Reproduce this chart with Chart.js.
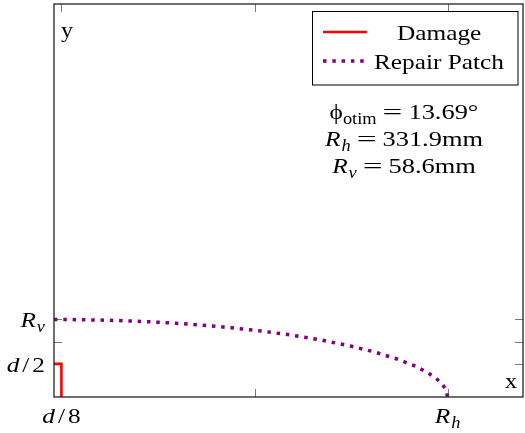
<!DOCTYPE html>
<html>
<head>
<meta charset="utf-8">
<script src="https://cdn.jsdelivr.net/npm/chart.js@4"></script>
<style>
  body { margin: 0; background: #fff; }
  #wrap { width: 525px; height: 433px; }
  #probe { position: absolute; left: -999px; top: 0; font-family: "Liberation Serif"; }
</style>
</head>
<body>
<div id="wrap"><canvas id="c" width="525" height="433"></canvas></div>
<div id="probe">Aa <i>Aa</i></div>
<script>
// data (mm)
const damageX = [0, 6.25, 6.25];
const damageY = [25, 25, 0];
const patchX = [0, 25, 50, 75, 100, 125, 150, 175, 200, 225, 250, 270, 290, 305, 315, 322, 327, 330, 331.9];
const patchY = [58.6, 58.4, 57.9, 57.1, 55.9, 54.3, 52.3, 49.8, 46.8, 43.1, 38.5, 34.1, 28.5, 23.1, 18.5, 14.2, 10.0, 6.3, 0];
const xTicks = [6.25, 169.1, 331.9];
const xTickLabels = ['d/8', '', 'R_h'];
const yTicks = [25, 41.8, 58.6];
const yTickLabels = ['d/2', '', 'R_v'];
const seriesNames = ['Damage', 'Repair Patch'];
const notes = [['ϕ', 'otim', '13.69°'], ['R', 'h', '331.9mm'], ['R', 'v', '58.6mm']];

const SERIF = '"Liberation Serif", "Times New Roman", Times, serif';
const FS = 21;
const SX = 1.15; // figure text looks stretched sideways

function pts(xs, ys) {
  return xs.map((x, i) => ({ x: x, y: ys[i] }));
}

// turn "R_h" / "d/8" into pieces with italic letters and subscripts
function mathPieces(s) {
  const out = [];
  const parts = s.split('_');
  for (const ch of parts[0]) {
    const isLetter = /[a-zA-Z]/.test(ch);
    const prevSlash = out.length && out[out.length - 1].t === '/';
    out.push({ t: ch, it: isLetter, gap: ch === '/' || prevSlash ? 3 : 0 });
  }
  if (parts[1]) out.push({ t: parts[1], it: true, sub: true, gap: 1 });
  return out;
}

function fontFor(p, size) {
  const s = p.sub ? Math.round(size * 0.74) : size;
  return (p.it ? 'italic ' : '') + s + 'px ' + SERIF;
}

function drawRich(ctx, pieces, x, y, align, size) {
  size = size || FS;
  let total = 0;
  const ws = pieces.map(p => {
    ctx.font = fontFor(p, size);
    const w = ctx.measureText(p.t).width * (p.sx || SX);
    total += (p.gap || 0) + w;
    return w;
  });
  let cx = align === 'center' ? x - total / 2 : align === 'right' ? x - total : x;
  ctx.fillStyle = '#000';
  ctx.textBaseline = 'alphabetic';
  ctx.textAlign = 'left';
  pieces.forEach((p, i) => {
    cx += p.gap || 0;
    ctx.font = fontFor(p, size);
    ctx.save();
    ctx.translate(cx, y + (p.sub ? size * 0.22 : 0));
    ctx.scale(p.sx || SX, 1);
    ctx.fillText(p.t, 0, 0);
    ctx.restore();
    cx += ws[i];
  });
}

const decor = {
  id: 'decor',
  beforeDatasetsDraw(chart) {
    const ctx = chart.ctx;
    const a = chart.chartArea;
    const xs = chart.scales.x, ys = chart.scales.y;
    ctx.save();
    ctx.strokeStyle = '#777';
    ctx.lineWidth = 1;
    const L = 8;
    xTicks.forEach(v => {
      const px = Math.round(xs.getPixelForValue(v)) + 0.5;
      ctx.beginPath();
      ctx.moveTo(px, a.bottom); ctx.lineTo(px, a.bottom - L);
      ctx.moveTo(px, a.top); ctx.lineTo(px, a.top + L);
      ctx.stroke();
    });
    yTicks.forEach(v => {
      const py = Math.round(ys.getPixelForValue(v)) + 0.5;
      ctx.beginPath();
      ctx.moveTo(a.left, py); ctx.lineTo(a.left + L, py);
      ctx.moveTo(a.right, py); ctx.lineTo(a.right - L, py);
      ctx.stroke();
    });
    ctx.restore();
  },
  afterDatasetsDraw(chart) {
    const ctx = chart.ctx;
    const a = chart.chartArea;
    const xs = chart.scales.x, ys = chart.scales.y;
    ctx.save();
    // frame
    ctx.strokeStyle = '#222';
    ctx.lineWidth = 1.3;
    ctx.strokeRect(a.left, a.top, a.right - a.left, a.bottom - a.top);

    // tick labels
    xTicks.forEach((v, i) => {
      if (!xTickLabels[i]) return;
      drawRich(ctx, mathPieces(xTickLabels[i]), xs.getPixelForValue(v), a.bottom + 26, 'center', 22);
    });
    yTicks.forEach((v, i) => {
      if (!yTickLabels[i]) return;
      drawRich(ctx, mathPieces(yTickLabels[i]), a.left - 9, ys.getPixelForValue(v) + 8, 'right', 22);
    });

    // axis names
    drawRich(ctx, [{ t: 'x' }], a.right - 18, a.bottom - 9, 'left');
    drawRich(ctx, [{ t: 'y' }], a.left + 7, a.top + 33, 'left');

    // legend box
    ctx.strokeStyle = '#000';
    ctx.lineWidth = 1;
    ctx.strokeRect(312.5, 11.5, 205.5, 73.5);
    chart.data.datasets.forEach((ds, i) => {
      const ly = i === 0 ? 32 : 61;
      ctx.beginPath();
      ctx.strokeStyle = ds.borderColor;
      ctx.lineWidth = ds.borderWidth;
      ctx.setLineDash(ds.borderDash || []);
      ctx.moveTo(323, ly); ctx.lineTo(367, ly);
      ctx.stroke();
      ctx.setLineDash([]);
      drawRich(ctx, [{ t: ds.label }], i === 0 ? 397 : 374, ly + 8, 'left', 22);
    });

    // annotation
    notes.forEach((n, i) => {
      const it = n[0] !== 'ϕ';
      drawRich(ctx, [
        { t: n[0], it: it },
        { t: n[1], it: it, sub: true, gap: it ? 1 : 0 },
        { t: '=', gap: 6, sx: 1.6 },
        { t: n[2], gap: 6, sx: 1.2 }
      ], 404, 119 + i * 27, 'center', 22);
    });
    ctx.restore();
  }
};

function build() {
  new Chart(document.getElementById('c'), {
    type: 'scatter',
    data: {
      datasets: [
        {
          label: seriesNames[0],
          data: pts(damageX, damageY),
          showLine: true,
          borderColor: '#ff0000',
          borderWidth: 2.6,
          pointRadius: 0,
          clip: false
        },
        {
          label: seriesNames[1],
          data: pts(patchX, patchY),
          showLine: true,
          borderColor: '#800080',
          borderWidth: 3.5,
          borderDash: [3.5, 5.8],
          borderCapStyle: 'butt',
          pointRadius: 0,
          clip: false
        }
      ]
    },
    options: {
      responsive: false,
      animation: false,
      layout: { padding: { left: 54, top: 4, right: 2, bottom: 36 } },
      plugins: { legend: { display: false }, tooltip: { enabled: false } },
      scales: {
        x: { type: 'linear', min: 0, max: 395.4, display: false },
        y: { type: 'linear', min: 0, max: 297, display: false }
      }
    },
    plugins: [decor]
  });
}

Promise.all([
  document.fonts.load('22px "Liberation Serif"'),
  document.fonts.load('italic 22px "Liberation Serif"')
]).then(build, build);
</script>
</body>
</html>
